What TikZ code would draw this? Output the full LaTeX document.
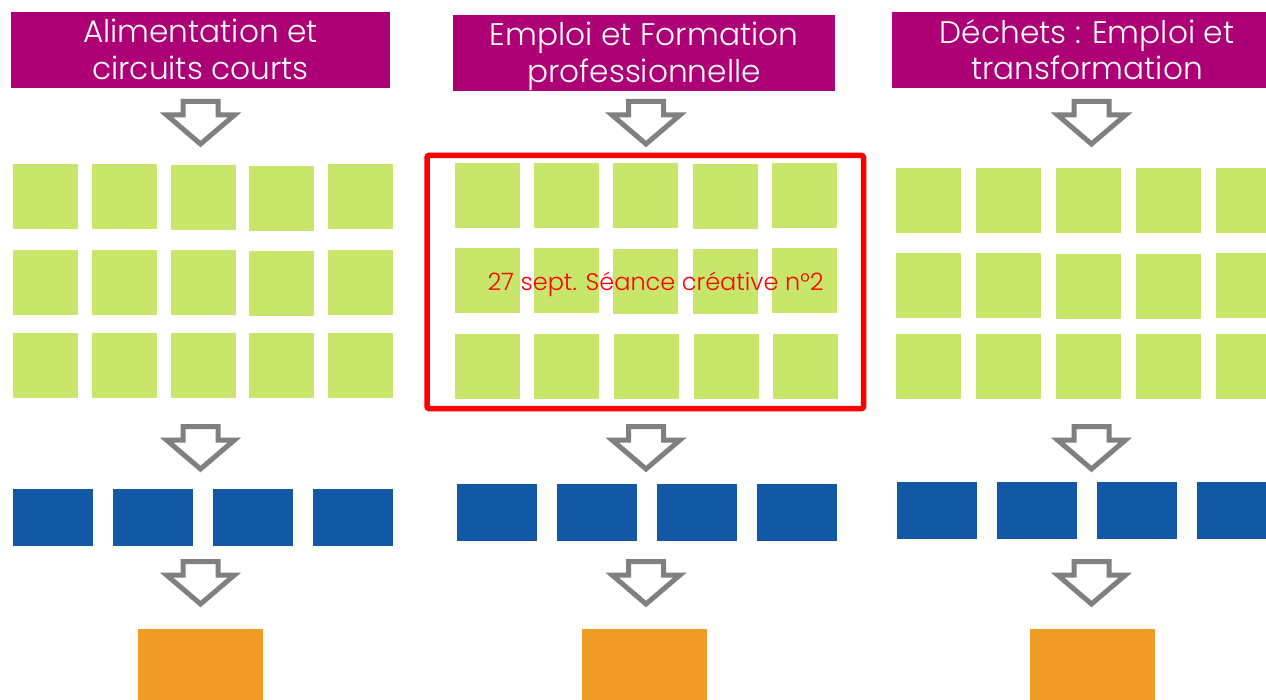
\documentclass[tikz,border=0pt]{standalone}
\usepackage{fontspec}
\setmainfont{Poppins}[UprightFont=* Light]
\definecolor{hdrmag}{HTML}{AD0077}
\definecolor{leaf}{HTML}{C8E76A}
\definecolor{deepblue}{HTML}{1259A5}
\definecolor{amber}{HTML}{F19C24}
\definecolor{arrgray}{HTML}{808080}
\tikzset{
  hdr/.style={fill=hdrmag, inner sep=0, anchor=north west},
  hdrtxt/.style={text=white, inner sep=0, anchor=base, font=\fontsize{31.2}{37}\selectfont},
  gbox/.style={fill=leaf, inner sep=0, minimum width=65, minimum height=65, anchor=north west},
  bbox/.style={fill=deepblue, inner sep=0, minimum width=80, minimum height=57, anchor=north west},
  obox/.style={fill=amber, inner sep=0, minimum width=125, minimum height=71, anchor=north west},
  blockarrow/.style={draw=arrgray, fill=white, line width=5, line join=miter},
}
% #1 centre x, #2 top y
\newcommand{\dnarrow}[2]{%
  \draw[blockarrow] (#1-17.5,#2+2.5) -- (#1+17.5,#2+2.5) -- (#1+17.5,#2+16) -- (#1+34,#2+16)
    -- (#1,#2+45) -- (#1-34,#2+16) -- (#1-17.5,#2+16) -- cycle;}
\begin{document}
\begin{tikzpicture}[x=1pt,y=-1pt]
\useasboundingbox (0,0) rectangle (1266,700);
% headers
\node[hdr, minimum width=379, minimum height=76] (h1) at (11,12) {};
\node[hdrtxt] (h1a) at (200.5,43) {Alimentation et};
\node[hdrtxt] (h1b) at (200.5,80) {circuits courts};
\node[hdr, minimum width=382, minimum height=76] (h2) at (453,15) {};
\node[hdrtxt] (h2a) at (644,46) {Emploi et Formation};
\node[hdrtxt] (h2b) at (644,83) {professionnelle};
\node[hdr, minimum width=386, minimum height=76] (h3) at (892,12) {};
\node[hdrtxt] (h3a) at (1087,44) {Déchets : Emploi et};
\node[hdrtxt] (h3b) at (1087,80) {transformation};
% arrows
\foreach \cx in {200.5,646,1091.5}{
  \dnarrow{\cx}{99}
  \dnarrow{\cx}{424}
  \dnarrow{\cx}{559}
}
% column 1 green grid
\node[gbox] (a11) at (13,164) {};
\node[gbox] (a12) at (92,164) {};
\node[gbox] (a13) at (171,165) {};
\node[gbox] (a14) at (249,166) {};
\node[gbox] (a15) at (328,164) {};
\node[gbox] (a21) at (13,250) {};
\node[gbox] (a22) at (92,250) {};
\node[gbox] (a23) at (171,250) {};
\node[gbox] (a24) at (249,251) {};
\node[gbox] (a25) at (328,250) {};
\node[gbox] (a31) at (13,333) {};
\node[gbox] (a32) at (92,333) {};
\node[gbox] (a33) at (171,333) {};
\node[gbox] (a34) at (249,333) {};
\node[gbox] (a35) at (328,333) {};
% column 2 green grid
\node[gbox] (b11) at (455,163) {};
\node[gbox] (b12) at (534,163) {};
\node[gbox] (b13) at (613,163) {};
\node[gbox] (b14) at (693,164) {};
\node[gbox] (b15) at (772,163) {};
\node[gbox] (b21) at (455,248) {};
\node[gbox] (b22) at (534,248) {};
\node[gbox] (b23) at (613,249) {};
\node[gbox] (b24) at (693,249) {};
\node[gbox] (b25) at (772,248) {};
\node[gbox] (b31) at (455,334) {};
\node[gbox] (b32) at (534,334) {};
\node[gbox] (b33) at (614,334) {};
\node[gbox] (b34) at (694,334) {};
\node[gbox] (b35) at (773,334) {};
% column 3 green grid
\node[gbox] (c11) at (896,168) {};
\node[gbox] (c12) at (976,168) {};
\node[gbox] (c13) at (1056,168) {};
\node[gbox] (c14) at (1136,168) {};
\node[gbox] (c15) at (1216,168) {};
\node[gbox] (c21) at (896,253) {};
\node[gbox] (c22) at (976,253) {};
\node[gbox] (c23) at (1056,254) {};
\node[gbox] (c24) at (1136,254) {};
\node[gbox] (c25) at (1216,253) {};
\node[gbox] (c31) at (896,334) {};
\node[gbox] (c32) at (976,334) {};
\node[gbox] (c33) at (1056,334) {};
\node[gbox] (c34) at (1136,334) {};
\node[gbox] (c35) at (1216,334) {};
% red frame and label
\draw[red, line width=5.5, rounded corners=2] (427,155.5) rectangle (863.5,408.5);
\node[text=red, inner sep=0, anchor=base, font=\fontsize{24}{29}\selectfont] (lbl) at (655.5,291) {27 sept. Séance créative n°2};
% blue boxes
\foreach \i/\x in {1/13,2/113,3/213,4/313}{ \node[bbox] (p\i) at (\x,489) {}; }
\foreach \i/\x in {1/457,2/557,3/657,4/757}{ \node[bbox] (q\i) at (\x,484) {}; }
\foreach \i/\x in {1/897,2/997,3/1097,4/1197}{ \node[bbox] (r\i) at (\x,482) {}; }
% orange boxes
\node[obox] (o1) at (138,629) {};
\node[obox] (o2) at (582,629) {};
\node[obox] (o3) at (1030,629) {};
\end{tikzpicture}
\end{document}
